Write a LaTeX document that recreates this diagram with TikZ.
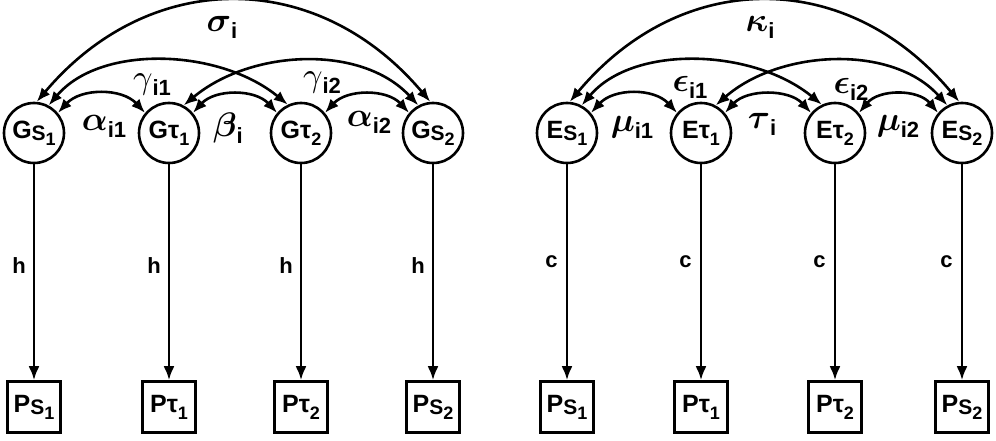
\documentclass[tikz,border=0pt]{standalone}
\usepackage{graphicx}
\usepackage{bm}
\usepackage{fontspec}
\setmainfont{Liberation Sans}
\usetikzlibrary{arrows.meta}

\newcommand{\nS}{\raisebox{-2pt}{\fontsize{21}{21}\selectfont S}}
\newcommand{\nT}{{\fontsize{25}{25}\selectfont τ}}
\newcommand{\nsub}[1]{\raisebox{-7pt}{\fontsize{18}{18}\selectfont #1}}
\newcommand{\glab}[2]{\scalebox{3.4}{$\bm{#1}$}\raisebox{-7pt}{\fontsize{22}{22}\selectfont\bfseries #2}}
\newcommand{\tlab}[2]{\scalebox{3.4}{$#1$}\raisebox{-7pt}{\fontsize{22}{22}\selectfont\bfseries #2}}

\tikzset{
  lat/.style={circle, draw, line width=2.6pt, minimum size=60pt, inner sep=0pt,
    font=\fontsize{25}{25}\selectfont\bfseries},
  obs/.style={rectangle, draw, line width=2.6pt, minimum width=53pt, minimum height=51pt,
    inner sep=0pt, font=\fontsize{25}{25}\selectfont\bfseries},
  link/.style={line width=2.6pt, -{Latex[length=14pt,width=11pt]}},
  dbl/.style={line width=2.6pt, {Latex[length=14pt,width=11pt]}-{Latex[length=14pt,width=11pt]}},
  plab/.style={font=\fontsize{22}{22}\selectfont\bfseries, inner sep=0pt},
  glabel/.style={inner sep=0pt}
}

\begin{document}
\begin{tikzpicture}[x=1pt,y=1pt]
\useasboundingbox (0,0) rectangle (996,440);

% left group
\node[lat] (Gs1) at (34,307) {G\nS\nsub{1}};
\node[lat] (GT1) at (169,307) {G\nT\nsub{1}};
\node[lat] (GT2) at (301,307) {G\nT\nsub{2}};
\node[lat] (Gs2) at (433,307) {G\nS\nsub{2}};

\node[obs] (PGs1) at (34,33) {P\nS\nsub{1}};
\node[obs] (PGT1) at (169,33) {P\nT\nsub{1}};
\node[obs] (PGT2) at (301,33) {P\nT\nsub{2}};
\node[obs] (PGs2) at (433,33) {P\nS\nsub{2}};

\draw[link] (Gs1) -- node[plab, pos=0.467, left=7pt] {h} (PGs1);
\draw[link] (GT1) -- node[plab, pos=0.467, left=7pt] {h} (PGT1);
\draw[link] (GT2) -- node[plab, pos=0.467, left=7pt] {h} (PGT2);
\draw[link] (Gs2) -- node[plab, pos=0.467, left=7pt] {h} (PGs2);

\draw[dbl] (Gs1.85) .. controls +(113,134) and +(-113,134) .. (Gs2.95);
\draw[dbl] (Gs1.62) .. controls +(52,61.5) and +(-68,56) .. (GT2.115);
\draw[dbl] (GT1.62) .. controls +(67,56) and +(-57,61.5) .. (Gs2.118);
\draw[dbl] (Gs1.40) .. controls +(23,25) and +(-23,25) .. (GT1.140);
\draw[dbl] (GT1.40) .. controls +(22,24) and +(-22,24) .. (GT2.140);
\draw[dbl] (GT2.40) .. controls +(22,24) and +(-22,24) .. (Gs2.140);

\node[glabel] (lsigma) at (222,413) {\glab{\sigma}{i}};
\node[glabel] (lgam1) at (152,355) {\tlab{\gamma}{i1}};
\node[glabel] (lalp1) at (104,314) {\glab{\alpha}{i1}};
\node[glabel] (lbeta) at (228,312) {\glab{\beta}{i}};
\node[glabel] (lgam2) at (322,357) {\tlab{\gamma}{i2}};
\node[glabel] (lalp2) at (369,318) {\glab{\alpha}{i2}};

% right group
\node[lat] (Es1) at (567,307) {E\nS\nsub{1}};
\node[lat] (ET1) at (701,307) {E\nT\nsub{1}};
\node[lat] (ET2) at (835,307) {E\nT\nsub{2}};
\node[lat] (Es2) at (962,307) {E\nS\nsub{2}};

\node[obs] (PEs1) at (567,33) {P\nS\nsub{1}};
\node[obs] (PET1) at (701,33) {P\nT\nsub{1}};
\node[obs] (PET2) at (835,33) {P\nT\nsub{2}};
\node[obs] (PEs2) at (962,33) {P\nS\nsub{2}};

\draw[link] (Es1) -- node[plab, pos=0.453, left=8pt] {c} (PEs1);
\draw[link] (ET1) -- node[plab, pos=0.453, left=8pt] {c} (PET1);
\draw[link] (ET2) -- node[plab, pos=0.453, left=8pt] {c} (PET2);
\draw[link] (Es2) -- node[plab, pos=0.453, left=8pt] {c} (PEs2);

\draw[dbl] (Es1.85) .. controls +(112,134) and +(-112,134) .. (Es2.95);
\draw[dbl] (Es1.62) .. controls +(52,61.5) and +(-68,56) .. (ET2.115);
\draw[dbl] (ET1.62) .. controls +(64,56) and +(-55,61.5) .. (Es2.118);
\draw[dbl] (Es1.40) .. controls +(23,25) and +(-23,25) .. (ET1.140);
\draw[dbl] (ET1.40) .. controls +(22,24) and +(-22,24) .. (ET2.140);
\draw[dbl] (ET2.40) .. controls +(20,24) and +(-20,24) .. (Es2.140);

\node[glabel] (lkappa) at (760,413) {\glab{\kappa}{i}};
\node[glabel] (leps1) at (690,353) {\glab{\epsilon}{i1}};
\node[glabel] (lmu1) at (632,313) {\glab{\mu}{i1}};
\node[glabel] (ltau) at (762,316) {\glab{\tau}{i}};
\node[glabel] (leps2) at (851,351) {\glab{\epsilon}{i2}};
\node[glabel] (lmu2) at (898,314) {\glab{\mu}{i2}};
\end{tikzpicture}
\end{document}
